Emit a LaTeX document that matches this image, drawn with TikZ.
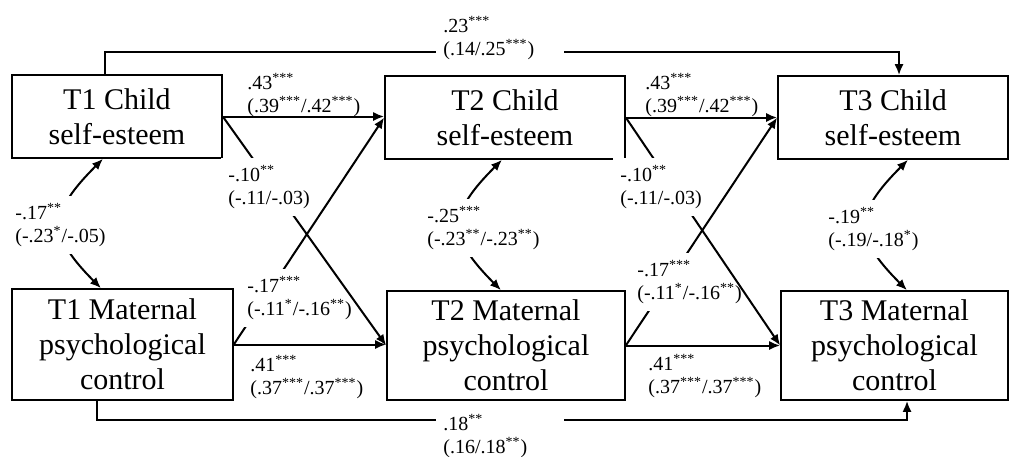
\documentclass[tikz,border=0pt]{standalone}
\usepackage{fontspec}
\setmainfont{Liberation Serif}
\usetikzlibrary{
    arrows.meta,
    positioning
}
\newcommand{\sig}[1]{\textsuperscript{#1}}
\tikzset{
    % Box styles
    var box/.style={
        draw,
        line width=0.8pt,
        rectangle,
        inner sep=0pt,
        align=center,
        font=\fontsize{15}{17.5}\selectfont
    },
    % Arrow styles
    path arrow/.style={
        -{Latex[length=5.5pt,width=4.5pt]},
        line width=1pt
    },
    corr arrow/.style={
        {Latex[length=5.5pt,width=4.5pt]}-{Latex[length=5.5pt,width=4.5pt]},
        line width=1pt
    },
    % Label styles
    coef/.style={
        anchor=west,
        align=left,
        inner sep=0pt,
        font=\fontsize{10}{11.5}\selectfont
    },
    gap coef/.style={
        coef,
        fill=white,
        inner sep=3.5pt
    }
}

\begin{document}
\begin{tikzpicture}[x=0.5pt, y=-0.5pt]
    \useasboundingbox (0,0) rectangle (1010,456);

    % variables
    \node[var box, minimum width=105pt, minimum height=41.5pt] (T1c) at (117,116.5) {T1 Child\\self-esteem};
    \node[var box, minimum width=120pt, minimum height=41.5pt] (T2c) at (505,117.5) {T2 Child\\self-esteem};
    \node[var box, minimum width=115pt, minimum height=41.5pt] (T3c) at (893,117.5) {T3 Child\\self-esteem};
    \node[var box, minimum width=110.5pt, minimum height=55.5pt] (T1m) at (122.5,344.5) {T1 Maternal\\psychological\\control};
    \node[var box, minimum width=119pt, minimum height=54.5pt] (T2m) at (506,345.5) {T2 Maternal\\psychological\\control};
    \node[var box, minimum width=113.5pt, minimum height=54.5pt] (T3m) at (894.5,345.5) {T3 Maternal\\psychological\\control};

    % stability paths
    \draw[path arrow] (T1c.east) -- (T1c.east -| T2c.west);
    \draw[path arrow] (T2c.east) -- (T2c.east -| T3c.west);
    \draw[path arrow] (T1m.east) -- (T1m.east -| T2m.west);
    \draw[path arrow] (T2m.east) -- (T2m.east -| T3m.west);
    \node[coef] (s1c) at (247,95) {.43\sig{***}\\(.39\sig{***}/.42\sig{***})};
    \node[coef] (s2c) at (645,95) {.43\sig{***}\\(.39\sig{***}/.42\sig{***})};
    \node[coef] (s1m) at (250,377) {.41\sig{***}\\(.37\sig{***}/.37\sig{***})};
    \node[coef] (s2m) at (648,376) {.41\sig{***}\\(.37\sig{***}/.37\sig{***})};

    % cross-lagged paths
    \draw[path arrow] (T1m.east) -- (T2c.west);
    \node[gap coef] (x1m) at (240,298) {-.17\sig{***}\\(-.11\sig{*}/-.16\sig{**})};
    \draw[path arrow] (T1c.east) -- (T2m.west);
    \node[gap coef] (x1c) at (221,187) {-.10\sig{**}\\(-.11/-.03)};
    \draw[path arrow] (T2m.east) -- (T3c.west);
    \node[gap coef] (x2m) at (630,282) {-.17\sig{***}\\(-.11\sig{*}/-.16\sig{**})};
    \draw[path arrow] (T2c.east) -- (T3m.west);
    \node[gap coef] (x2c) at (613,187) {-.10\sig{**}\\(-.11/-.03)};

    % T1 -> T3 paths
    \draw[path arrow] ([xshift=-6pt]T1c.north) -- ++(0,-22) -| ([xshift=3pt]T3c.north);
    \node[gap coef, text width=57pt] (l13c) at (436,38) {.23\sig{***}\\(.14/.25\sig{***})};
    \draw[path arrow] ([xshift=-12.75pt]T1m.south) -- ++(0,19) -| ([xshift=6.25pt]T3m.south);
    \node[gap coef, text width=57pt] (l13m) at (436,436) {.18\sig{**}\\(.16/.18\sig{**})};

    % within-time correlations
    \draw[corr arrow] ([xshift=-7pt]T1c.south) to[out=225, in=135, looseness=1.5] ([xshift=-10.75pt]T1m.north);
    \node[gap coef] (r1) at (8,225) {-.17\sig{**}\\(-.23\sig{*}/-.05)};
    \draw[corr arrow] ([xshift=-1.5pt]T2c.south) to[out=225, in=135, looseness=1.5] ([xshift=-2.5pt]T2m.north);
    \node[gap coef] (r2) at (420,228) {-.25\sig{***}\\(-.23\sig{**}/-.23\sig{**})};
    \draw[corr arrow] ([xshift=7.5pt]T3c.south) to[out=225, in=135, looseness=1.5] ([xshift=6.25pt]T3m.north);
    \node[gap coef] (r3) at (821,229) {-.19\sig{**}\\(-.19/-.18\sig{*})};
\end{tikzpicture}
\end{document}
